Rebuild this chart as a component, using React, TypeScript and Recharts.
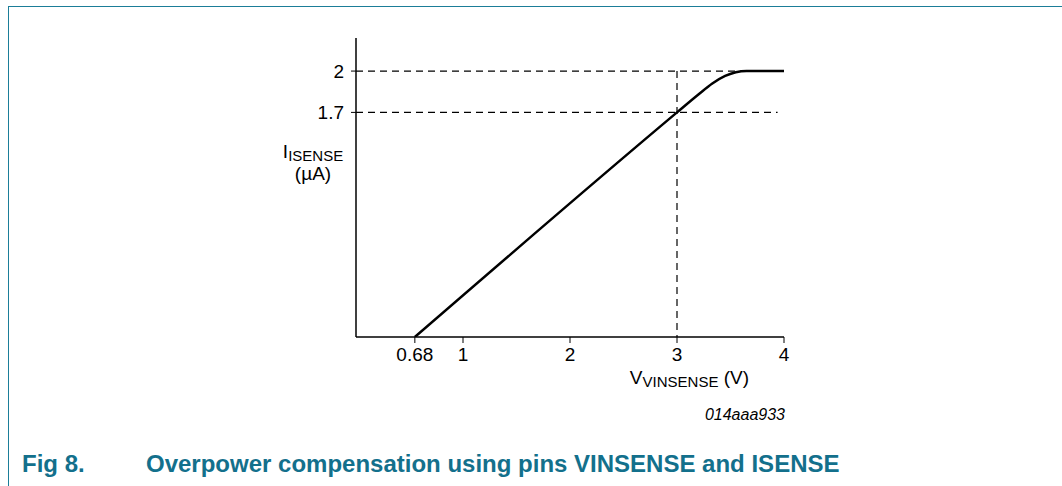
import { LineChart, Line, XAxis, YAxis, ReferenceLine, Label } from 'recharts';

// V_VINSENSE (V) against I_ISENSE (µA)
const vSense = [0.55, 3, 3.2, 3.33, 3.45, 3.55, 3.65, 4];
const iSense = [0.07, 1.7, 1.83, 1.91, 1.965, 1.992, 2, 2];

const xTicks = [0.55, 1, 2, 3, 4];
const xTickLabels = ['0.68', '1', '2', '3', '4'];
const yTicks = [1.7, 2];
const yTickLabels = ['1.7', '2'];

const xDomain = [0, 4];
const yDomain = [0.07, 2.24];

const iMax = 2;
const iKnee = 1.7;
const vKnee = 3;
const vDashEnd = 3.94;

const data = vSense.map((v, i) => ({ v, i: iSense[i] }));

const FONT = '"Liberation Sans", Arial, Helvetica, sans-serif';
const TEAL = '#1b7d98';
const CAPTION = '#13708c';

function YTitle({ viewBox }: { viewBox?: { x: number; y: number; width: number; height: number } }) {
  if (!viewBox) return null;
  const cx = viewBox.x + viewBox.width - 43;
  const top = viewBox.y;
  return (
    <g fontFamily={FONT} fill="#000">
      <text x={cx} y={top + 120} textAnchor="middle">
        <tspan fontSize={19}>I</tspan>
        <tspan fontSize={15} dy={3}>ISENSE</tspan>
      </text>
      <text x={cx} y={top + 142} textAnchor="middle" fontSize={19}>
        (µA)
      </text>
    </g>
  );
}

function XTitle({ viewBox }: { viewBox?: { x: number; y: number; width: number; height: number } }) {
  if (!viewBox) return null;
  const right = viewBox.x + viewBox.width;
  const axisY = viewBox.y;
  return (
    <g fontFamily={FONT} fill="#000">
      <text x={right - 35} y={axisY + 47} textAnchor="end">
        <tspan fontSize={19}>V</tspan>
        <tspan fontSize={15} dy={3}>VINSENSE</tspan>
        <tspan fontSize={19} dy={-3}> (V)</tspan>
      </text>
      <text x={right + 1} y={axisY + 83} textAnchor="end" fontSize={16} fontStyle="italic">
        014aaa933
      </text>
    </g>
  );
}

const dashed = { stroke: '#000', strokeWidth: 1.2, strokeDasharray: '7 5' };

export default function App() {
  return (
    <div
      style={{
        position: 'fixed',
        left: 0,
        top: 0,
        width: 1062,
        height: 486,
        background: '#fff',
        overflow: 'hidden',
        fontFamily: FONT,
      }}
    >
      <div
        style={{
          position: 'absolute',
          left: 7.5,
          top: 5.5,
          right: 0,
          bottom: 0,
          borderTop: `1.5px solid ${TEAL}`,
          borderLeft: `1.5px solid ${TEAL}`,
        }}
      />
      <div style={{ position: 'absolute', left: 0, top: 0 }}>
        <LineChart
          width={1062}
          height={486}
          data={data}
          margin={{ top: 38, right: 278, bottom: 119, left: 296 }}
        >
          <XAxis
            type="number"
            dataKey="v"
            domain={xDomain}
            ticks={xTicks}
            tickFormatter={(t: number) => xTickLabels[xTicks.indexOf(t)]}
            allowDataOverflow
            height={30}
            tickSize={6}
            tickMargin={5}
            axisLine={{ stroke: '#000', strokeWidth: 1.5 }}
            tickLine={{ stroke: '#000', strokeWidth: 1 }}
            tick={{ fontSize: 19, fill: '#000', fontFamily: FONT }}
          >
            <Label content={<XTitle />} position="insideBottom" />
          </XAxis>
          <YAxis
            type="number"
            domain={yDomain}
            ticks={yTicks}
            tickFormatter={(t: number) => yTickLabels[yTicks.indexOf(t)]}
            allowDataOverflow
            width={60}
            tickSize={5}
            tickMargin={7}
            axisLine={{ stroke: '#000', strokeWidth: 1.5 }}
            tickLine={{ stroke: '#000', strokeWidth: 1 }}
            tick={{ fontSize: 19, fill: '#000', fontFamily: FONT }}
          >
            <Label content={<YTitle />} position="insideLeft" />
          </YAxis>
          <ReferenceLine segment={[{ x: xDomain[0], y: iMax }, { x: xDomain[1], y: iMax }]} {...dashed} />
          <ReferenceLine segment={[{ x: xDomain[0], y: iKnee }, { x: vDashEnd, y: iKnee }]} {...dashed} />
          <ReferenceLine segment={[{ x: vKnee, y: iMax }, { x: vKnee, y: yDomain[0] }]} {...dashed} />
          <Line
            type="monotone"
            dataKey="i"
            stroke="#000"
            strokeWidth={2.5}
            dot={false}
            isAnimationActive={false}
          />
        </LineChart>
      </div>
      <div
        style={{
          position: 'absolute',
          left: 22,
          top: 452,
          fontSize: 24,
          lineHeight: '24px',
          fontWeight: 'bold',
          color: CAPTION,
          whiteSpace: 'nowrap',
        }}
      >
        Fig 8.
      </div>
      <div
        style={{
          position: 'absolute',
          left: 146,
          top: 452,
          fontSize: 24,
          lineHeight: '24px',
          fontWeight: 'bold',
          color: CAPTION,
          whiteSpace: 'nowrap',
        }}
      >
        Overpower compensation using pins VINSENSE and ISENSE
      </div>
    </div>
  );
}
